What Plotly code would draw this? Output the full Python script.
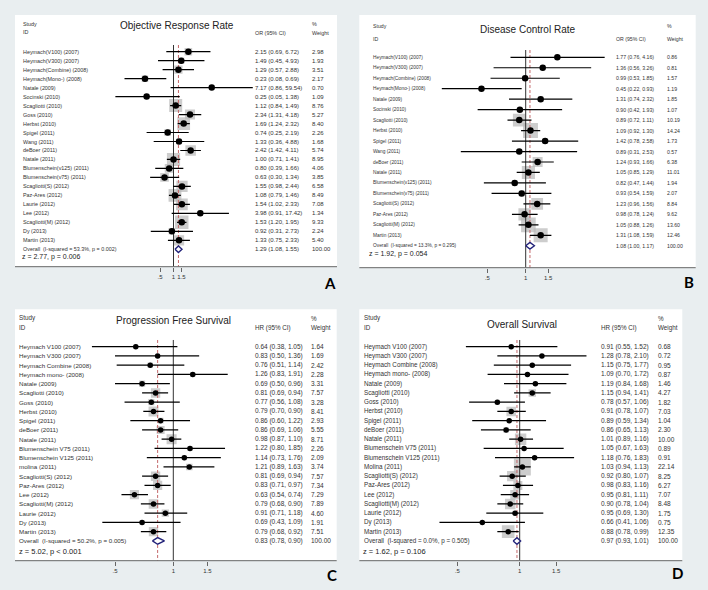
import numpy as np
import plotly.graph_objects as go

W, H = 708, 590

# ---------------- DATA ----------------
tick_vals = [0.5, 1, 1.5]
tick_text = [".5", "1", "1.5"]

# A: Objective Response Rate
studies_A = ["Heymach(V100) (2007)", "Heymach(V300) (2007)", "Heymach(Combine) (2008)", "Heymach(Mono-) (2008)",
             "Natale (2009)", "Socinski (2010)", "Scagliotti (2010)", "Goss (2010)", "Herbst (2010)", "Spigel (2011)",
             "Wang (2011)", "deBoer (2011)", "Natale (2011)", "Blumenschein(v125) (2011)", "Blumenschein(v75) (2011)",
             "Scagliotti(S) (2012)", "Paz-Ares (2012)", "Laurie (2012)", "Lee (2012)", "Scagliotti(M) (2012)",
             "Dy (2013)", "Martin (2013)"]
est_A = [2.15, 1.49, 1.29, 0.23, 7.17, 0.25, 1.12, 2.34, 1.69, 0.74, 1.33, 2.42, 1.00, 0.80, 0.63, 1.55, 1.08, 1.54, 3.98, 1.53, 0.92, 1.33]
lo_A = [0.69, 0.45, 0.57, 0.08, 0.86, 0.05, 0.84, 1.31, 1.24, 0.25, 0.36, 1.42, 0.71, 0.39, 0.30, 0.98, 0.79, 1.02, 0.91, 1.20, 0.31, 0.75]
hi_A = [6.72, 4.93, 2.88, 0.69, 59.54, 1.38, 1.49, 4.18, 2.32, 2.19, 4.88, 4.11, 1.41, 1.66, 1.34, 2.44, 1.46, 2.33, 17.42, 1.95, 2.73, 2.33]
wt_A = [2.98, 1.93, 3.51, 2.17, 0.70, 1.09, 8.76, 5.27, 8.40, 2.26, 1.68, 5.74, 8.95, 4.06, 3.85, 6.58, 8.49, 7.08, 1.34, 9.33, 2.24, 5.40]
overall_A = [1.29, 1.08, 1.55]
het_A = "Overall  (I-squared = 53.3%, p = 0.002)"
z_A = "z = 2.77, p = 0.006"

# B: Disease Control Rate
studies_B = ["Heymach(V100) (2007)", "Heymach(V300) (2007)", "Heymach(Combine) (2008)", "Heymach(Mono-) (2008)",
             "Natale (2009)", "Socinski (2010)", "Scagliotti (2010)", "Herbst (2010)", "Spigel (2011)", "Wang (2011)",
             "deBoer (2011)", "Natale (2011)", "Blumenschein(v125) (2011)", "Blumenschein(v75) (2011)",
             "Scagliotti(S) (2012)", "Paz-Ares (2012)", "Scagliotti(M) (2012)", "Martin (2013)"]
est_B = [1.77, 1.36, 0.99, 0.45, 1.31, 0.90, 0.89, 1.09, 1.42, 0.89, 1.24, 1.05, 0.82, 0.93, 1.23, 0.98, 1.05, 1.31]
lo_B = [0.76, 0.56, 0.53, 0.22, 0.74, 0.42, 0.72, 0.92, 0.78, 0.31, 0.93, 0.85, 0.47, 0.54, 0.96, 0.78, 0.88, 1.08]
hi_B = [4.16, 3.26, 1.85, 0.93, 2.32, 1.93, 1.11, 1.30, 2.58, 2.53, 1.66, 1.29, 1.44, 1.59, 1.56, 1.24, 1.26, 1.59]
wt_B = [0.86, 0.81, 1.57, 1.19, 1.85, 1.07, 10.19, 14.24, 1.73, 0.57, 6.38, 11.01, 1.94, 2.07, 8.84, 9.62, 13.60, 12.46]
overall_B = [1.08, 1.00, 1.17]
het_B = "Overall  (I-squared = 13.3%, p = 0.295)"
z_B = "z = 1.92, p = 0.054"

# C: Progression Free Survival
studies_C = ["Heymach V100 (2007)", "Heymach V300 (2007)", "Heymach Combine (2008)", "Heymach mono- (2008)",
             "Natale (2009)", "Scagliotti (2010)", "Goss (2010)", "Herbst (2010)", "Spigel (2011)", "deBoer (2011)",
             "Natale (2011)", "Blumenschein V75 (2011)", "Blumenschein V125 (2011)", "molina (2011)",
             "Scagliotti(S) (2012)", "Paz-Ares (2012)", "Lee (2012)", "Scagliotti(M) (2012)", "Laurie (2012)",
             "Dy (2013)", "Martin (2013)"]
est_C = [0.64, 0.83, 0.76, 1.26, 0.69, 0.81, 0.77, 0.79, 0.86, 0.86, 0.98, 1.22, 1.14, 1.21, 0.81, 0.83, 0.63, 0.79, 0.91, 0.69, 0.79]
lo_C = [0.38, 0.50, 0.51, 0.83, 0.50, 0.69, 0.56, 0.70, 0.60, 0.69, 0.87, 0.80, 0.73, 0.89, 0.69, 0.71, 0.54, 0.68, 0.71, 0.43, 0.68]
hi_C = [1.05, 1.36, 1.14, 1.91, 0.96, 0.94, 1.08, 0.90, 1.22, 1.06, 1.10, 1.85, 1.76, 1.63, 0.94, 0.97, 0.74, 0.90, 1.18, 1.09, 0.92]
wt_C = [1.64, 1.69, 2.42, 2.28, 3.31, 7.57, 3.28, 8.41, 2.93, 5.55, 8.71, 2.26, 2.09, 3.74, 7.57, 7.34, 7.29, 7.89, 4.60, 1.91, 7.51]
overall_C = [0.83, 0.78, 0.90]
het_C = "Overall  (I-squared = 50.2%, p = 0.005)"
z_C = "z = 5.02, p < 0.001"

# D: Overall Survival
studies_D = ["Heymach V100 (2007)", "Heymach V300 (2007)", "Heymach Combine (2008)", "Heymach mono- (2008)",
             "Natale (2009)", "Scagliotti (2010)", "Goss (2010)", "Herbst (2010)", "Spigel (2011)", "deBoer (2011)",
             "Natale (2011)", "Blumenschein V75 (2011)", "Blumenschein V125 (2011)", "Molina (2011)",
             "Scagliotti(S) (2012)", "Paz-Ares (2012)", "Lee (2012)", "Scagliotti(M) (2012)", "Laurie (2012)",
             "Dy (2013)", "Martin (2013)"]
est_D = [0.91, 1.28, 1.15, 1.09, 1.19, 1.15, 0.78, 0.91, 0.89, 0.86, 1.01, 1.05, 1.18, 1.03, 0.92, 0.98, 0.95, 0.90, 0.95, 0.66, 0.88]
lo_D = [0.55, 0.78, 0.75, 0.70, 0.84, 0.94, 0.57, 0.78, 0.59, 0.65, 0.89, 0.67, 0.76, 0.94, 0.80, 0.83, 0.81, 0.78, 0.69, 0.41, 0.78]
hi_D = [1.52, 2.10, 1.77, 1.72, 1.68, 1.41, 1.06, 1.07, 1.34, 1.13, 1.16, 1.63, 1.83, 1.13, 1.07, 1.16, 1.11, 1.04, 1.30, 1.06, 0.99]
wt_D = [0.68, 0.72, 0.95, 0.87, 1.46, 4.27, 1.82, 7.03, 1.04, 2.30, 10.00, 0.89, 0.91, 22.14, 8.25, 6.27, 7.07, 8.48, 1.75, 0.75, 12.35]
overall_D = [0.97, 0.93, 1.01]
het_D = "Overall  (I-squared = 0.0%, p = 0.505)"
z_D = "z = 1.62, p = 0.106"

# ---------------- STYLE / LAYOUT (pixels) ----------------
FONT = "Liberation Sans, Arial, sans-serif"
BG = "#e9eef0"
TXT = "#333333"

panels = [
    dict(letter="A", title="Objective Response Rate", measure="OR (95% CI)",
         studies=studies_A, est=est_A, lo=lo_A, hi=hi_A, wt=wt_A, ov=overall_A, het=het_A, z=z_A,
         box=(15, 15, 337, 266.7), one_px=173.5, scale=19.4, xdom=(90, 253), row0=51.7, step=8.98,
         line_top=45, lab_x=21, num_x=253, wt_x=310, hs_y=24, hi_y=32.5, hc_y=33.3,
         title_xy=(177.5, 25.7), z_xy=(20, 257.5), fs_lab=5.4, fs_num=6.0, fs_hdr=5.4, fs_z=7,
         box_k=4.4, dot=6.5, letter_xy=(330, 283)),
    dict(letter="B", title="Disease Control Rate", measure="OR (95% CI)",
         studies=studies_B, est=est_B, lo=lo_B, hi=hi_B, wt=wt_B, ov=overall_B, het=het_B, z=z_B,
         box=(359.3, 15, 695.7, 267.7), one_px=525.7, scale=55.4, xdom=(415, 610), row0=57.3, step=10.47,
         line_top=50, lab_x=370.5, num_x=614, wt_x=664.7, hs_y=25.7, hi_y=39, hc_y=39,
         title_xy=(527.8, 29), z_xy=(366.5, 254.3), fs_lab=4.8, fs_num=5.2, fs_hdr=5.2, fs_z=7,
         box_k=3.97, dot=6.5, letter_xy=(689.3, 282)),
    dict(letter="C", title="Progression Free Survival", measure="HR (95% CI)",
         studies=studies_C, est=est_C, lo=lo_C, hi=hi_C, wt=wt_C, ov=overall_C, het=het_C, z=z_C,
         box=(15, 309.3, 336.7, 560.7), one_px=173.3, scale=84.1, xdom=(85, 240), row0=346.7, step=9.25,
         line_top=340, lab_x=16.7, num_x=253.3, wt_x=309, hs_y=318.3, hi_y=327.3, hc_y=328.3,
         title_xy=(173.7, 320.7), z_xy=(16.7, 551), fs_lab=6.2, fs_num=6.5, fs_hdr=6.3, fs_z=7.5,
         box_k=3.4, dot=5.5, letter_xy=(331.7, 575)),
    dict(letter="D", title="Overall Survival", measure="HR (95% CI)",
         studies=studies_D, est=est_D, lo=lo_D, hi=hi_D, wt=wt_D, ov=overall_D, het=het_D, z=z_D,
         box=(359.3, 309.3, 682.3, 560.7), one_px=519.7, scale=90.0, xdom=(430, 595), row0=346.7, step=9.25,
         line_top=340, lab_x=362.3, num_x=599, wt_x=655.7, hs_y=318.3, hi_y=327.3, hc_y=328.3,
         title_xy=(521.7, 324.3), z_xy=(361, 551), fs_lab=6.3, fs_num=6.5, fs_hdr=6.3, fs_z=7.5,
         box_k=3.6, dot=5.5, letter_xy=(677.3, 573.3)),
]


def px_x(px):
    return px / W


def px_y(py):
    return 1 - py / H


fig = go.Figure()
shapes = []
annotations = []
layout_axes = {}

for i, p in enumerate(panels, start=1):
    sfx = "" if i == 1 else str(i)
    xa, ya = "x" + sfx, "y" + sfx
    bx0, by0, bx1, by1 = p["box"]
    L, R = p["xdom"]
    xmin = np.exp((L - p["one_px"]) / p["scale"])
    xmax = np.exp((R - p["one_px"]) / p["scale"])
    row = lambda py, p=p: (py - p["row0"]) / p["step"]

    layout_axes["xaxis" + sfx] = dict(
        type="log", domain=[px_x(L), px_x(R)], range=[np.log10(xmin), np.log10(xmax)],
        anchor=ya, tickvals=tick_vals, ticktext=tick_text, ticks="outside", ticklen=4, tickangle=0,
        tickcolor="#666666", tickwidth=1, tickfont=dict(size=6, color=TXT, family=FONT),
        showgrid=False, zeroline=False, showline=False, fixedrange=True)
    layout_axes["yaxis" + sfx] = dict(
        domain=[px_y(by1), px_y(by0)], range=[row(by1), row(by0)], visible=False,
        anchor=xa, fixedrange=True)

    # white panel and axis line
    shapes.append(dict(type="rect", xref="paper", yref="paper", x0=px_x(bx0), x1=px_x(bx1),
                       y0=px_y(by1), y1=px_y(by0), fillcolor="white", line=dict(width=0), layer="below"))
    shapes.append(dict(type="line", xref="paper", yref="paper", x0=px_x(bx0), x1=px_x(bx1),
                       y0=px_y(by1), y1=px_y(by1), line=dict(color="#666666", width=1)))

    n = len(p["studies"])
    rows = list(range(n))
    sizes = [p["box_k"] * np.sqrt(w) for w in p["wt"]]

    # weight boxes
    fig.add_trace(go.Scatter(x=p["est"], y=rows, mode="markers", xaxis=xa, yaxis=ya,
                             marker=dict(symbol="square", size=sizes, color="#b8b8b8", line=dict(width=0)),
                             hoverinfo="skip", showlegend=False))
    # no-effect line and overall dashed line
    fig.add_trace(go.Scatter(x=[1, 1], y=[row(p["line_top"]), row(by1)], mode="lines", xaxis=xa, yaxis=ya,
                             line=dict(color="#333333", width=1), hoverinfo="skip", showlegend=False))
    fig.add_trace(go.Scatter(x=[p["ov"][0], p["ov"][0]], y=[row(p["line_top"]), row(by1)], mode="lines",
                             xaxis=xa, yaxis=ya, line=dict(color="#c4686a", width=1, dash="3px,2px"),
                             hoverinfo="skip", showlegend=False))
    # CI lines (clipped with arrow if exceeding the axis)
    xs, ys = [], []
    tip = np.exp((R - 1 - p["one_px"]) / p["scale"])
    back = np.exp(-4.5 / p["scale"])
    for r, lo, hi in zip(rows, p["lo"], p["hi"]):
        if hi > xmax:
            xs += [lo, tip, None, tip * back, tip, tip * back, None]
            ys += [r, r, None, r - 0.38, r, r + 0.38, None]
        else:
            xs += [lo, hi, None]
            ys += [r, r, None]
    fig.add_trace(go.Scatter(x=xs, y=ys, mode="lines", xaxis=xa, yaxis=ya,
                             line=dict(color="black", width=1.2), hoverinfo="skip", showlegend=False))
    # point estimates
    fig.add_trace(go.Scatter(x=p["est"], y=rows, mode="markers", xaxis=xa, yaxis=ya,
                             marker=dict(symbol="circle", size=p["dot"], color="black"),
                             hoverinfo="skip", showlegend=False))
    # overall diamond
    oe, ol, oh = p["ov"]
    h = 3.3 / p["step"]
    fig.add_trace(go.Scatter(x=[ol, oe, oh, oe, ol], y=[n, n - h, n, n + h, n], mode="lines",
                             fill="toself", fillcolor="white", xaxis=xa, yaxis=ya,
                             line=dict(color="#23237a", width=1.4), hoverinfo="skip", showlegend=False))

    # row texts
    labels = p["studies"] + [p["het"]]
    nums = [f"{e:.2f} ({l:.2f}, {u:.2f})" for e, l, u in zip(p["est"], p["lo"], p["hi"])] + \
           [f"{oe:.2f} ({ol:.2f}, {oh:.2f})"]
    wts = [f"{w:.2f}" for w in p["wt"]] + ["100.00"]
    for r in range(n + 1):
        for txt, xx, fs in ((labels[r], p["lab_x"], p["fs_lab"]), (nums[r], p["num_x"], p["fs_num"]),
                            (wts[r], p["wt_x"], p["fs_num"])):
            annotations.append(dict(text=txt, xref="paper", yref=ya, x=px_x(xx), y=r, xanchor="left",
                                    yanchor="middle", showarrow=False,
                                    font=dict(size=fs, color=TXT, family=FONT)))
    # headers
    hdr = [("Study", p["lab_x"], p["hs_y"]), ("ID", p["lab_x"], p["hi_y"]),
           (p["measure"], p["num_x"], p["hc_y"]), ("%", p["wt_x"], p["hs_y"]), ("Weight", p["wt_x"], p["hc_y"])]
    for txt, xx, yy in hdr:
        annotations.append(dict(text=txt, xref="paper", yref="paper", x=px_x(xx), y=px_y(yy),
                                xanchor="left", yanchor="middle", showarrow=False,
                                font=dict(size=p["fs_hdr"], color=TXT, family=FONT)))
    annotations.append(dict(text=p["title"], xref="paper", yref="paper", x=px_x(p["title_xy"][0]),
                            y=px_y(p["title_xy"][1]), xanchor="center", yanchor="middle", showarrow=False,
                            font=dict(size=10, color="#222222", family=FONT)))
    annotations.append(dict(text=p["z"], xref="paper", yref="paper", x=px_x(p["z_xy"][0]),
                            y=px_y(p["z_xy"][1]), xanchor="left", yanchor="middle", showarrow=False,
                            font=dict(size=p["fs_z"], color="#222222", family=FONT)))
    annotations.append(dict(text="<b>" + p["letter"] + "</b>", xref="paper", yref="paper",
                            x=px_x(p["letter_xy"][0]), y=px_y(p["letter_xy"][1]), xanchor="center",
                            yanchor="middle", showarrow=False,
                            font=dict(size=15, color="black", family="Lato, Liberation Sans, sans-serif")))

fig.update_layout(width=W, height=H, margin=dict(l=0, r=0, t=0, b=0), paper_bgcolor=BG,
                  plot_bgcolor="rgba(0,0,0,0)", showlegend=False, shapes=shapes, annotations=annotations,
                  **layout_axes)

fig.write_html("out.html", config={"displayModeBar": False},
               post_script="document.body.style.margin='0px';document.body.style.background='" + BG + "';")
